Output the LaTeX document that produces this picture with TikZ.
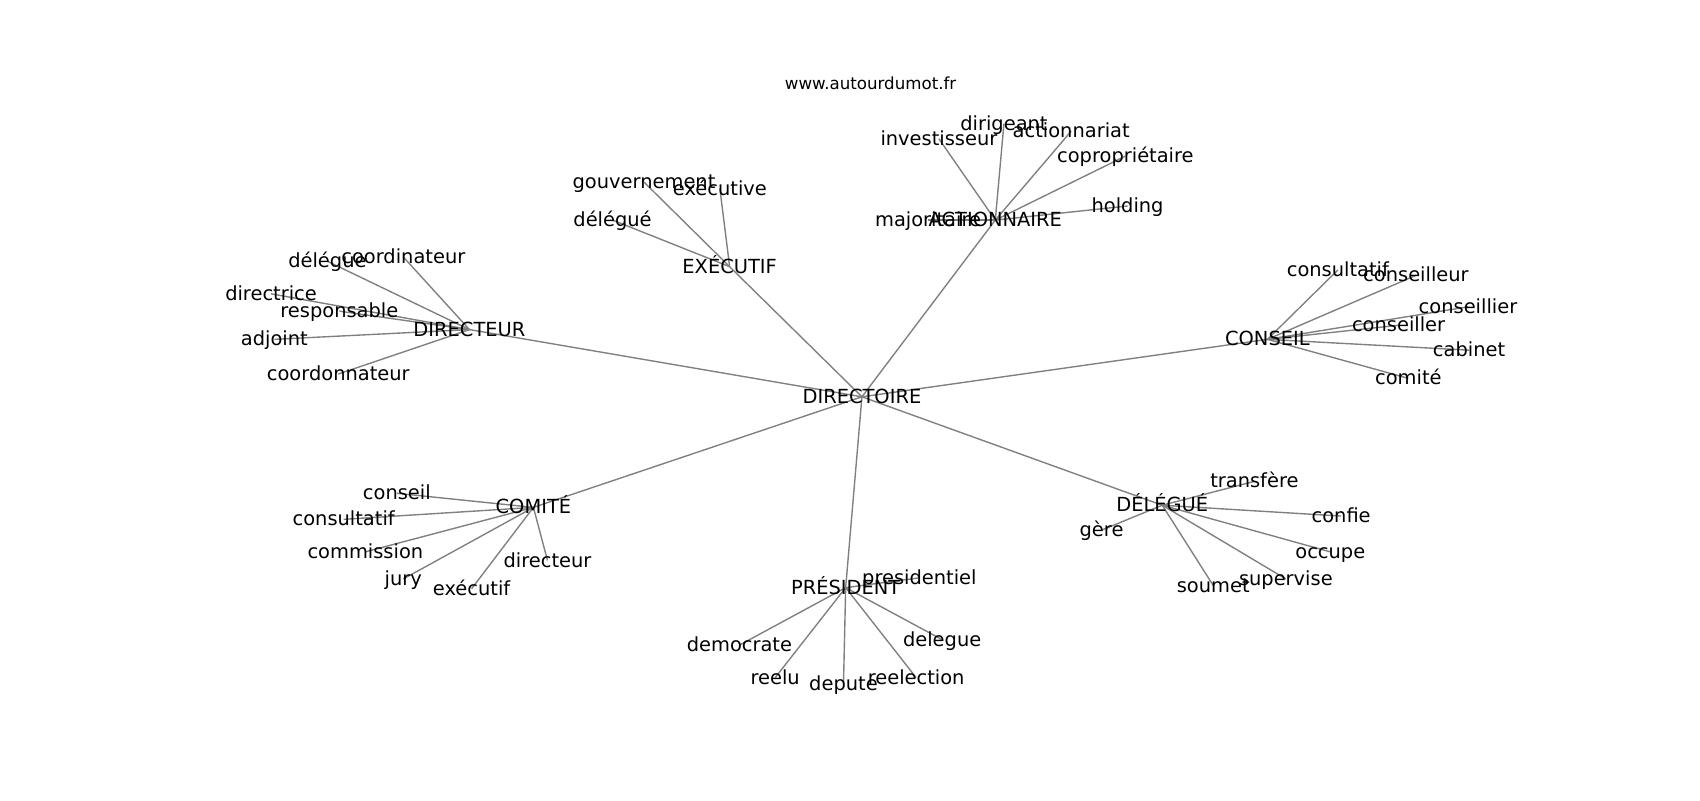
\documentclass[tikz,border=0pt]{standalone}
\usepackage{fontspec}
\setmainfont{DejaVu Sans}
\usetikzlibrary{backgrounds}
\tikzset{
    lbl/.style={font=\fontsize{14bp}{16bp}\selectfont, inner sep=0pt, text height=11.8bp, text depth=2.3bp},
    edge/.style={draw=gray, line width=1bp}
}
\newcommand{\spoke}[4]{\node[lbl] (#2) at (#3) {#4}; \begin{pgfonlayer}{background}\draw[edge] (#1.center) -- (#2.center);\end{pgfonlayer}}

\begin{document}
\begin{tikzpicture}[x=0.010842in, y=-0.010842in]
    \useasboundingbox (0,0) rectangle (1568,738);
    \node[font=\fontsize{12bp}{14bp}\selectfont, inner sep=0pt] (site) at (803,77) {www.autourdumot.fr};
    % centre
    \node[lbl] (dirtoire) at (795,366) {DIRECTOIRE};
    \spoke{dirtoire}{directeur}{433,304}{DIRECTEUR}
    \spoke{dirtoire}{executif}{673,246}{EXÉCUTIF}
    \spoke{dirtoire}{actionnaire}{918,203}{ACTIONNAIRE}
    \spoke{dirtoire}{conseil}{1169,313}{CONSEIL}
    \spoke{dirtoire}{comite}{492,468}{COMITÉ}
    \spoke{dirtoire}{president}{780,542}{PRÉSIDENT}
    \spoke{dirtoire}{delegue}{1072,466}{DÉLÉGUÉ}
    % directeur
    \spoke{directeur}{dir1}{302,241}{délégue}
    \spoke{directeur}{dir2}{372,237}{coordinateur}
    \spoke{directeur}{dir3}{250,271}{directrice}
    \spoke{directeur}{dir4}{313,287}{responsable}
    \spoke{directeur}{dir5}{253,313}{adjoint}
    \spoke{directeur}{dir6}{312,345}{coordonnateur}
    % executif
    \spoke{executif}{exe1}{594,168}{gouvernement}
    \spoke{executif}{exe2}{664,174}{exécutive}
    \spoke{executif}{exe3}{565,203}{délégué}
    % actionnaire
    \spoke{actionnaire}{act1}{856,203}{majoritaire}
    \spoke{actionnaire}{act2}{866,128}{investisseur}
    \spoke{actionnaire}{act3}{926,114}{dirigeant}
    \spoke{actionnaire}{act4}{988,121}{actionnariat}
    \spoke{actionnaire}{act5}{1038,144}{copropriétaire}
    \spoke{actionnaire}{act6}{1040,190}{holding}
    % conseil
    \spoke{conseil}{con1}{1234,249}{consultatif}
    \spoke{conseil}{con2}{1306,254}{conseilleur}
    \spoke{conseil}{con3}{1354,283}{conseillier}
    \spoke{conseil}{con4}{1290,300}{conseiller}
    \spoke{conseil}{con5}{1355,323}{cabinet}
    \spoke{conseil}{con6}{1299,349}{comité}
    % comite
    \spoke{comite}{com1}{366,455}{conseil}
    \spoke{comite}{com2}{317,479}{consultatif}
    \spoke{comite}{com3}{337,509}{commission}
    \spoke{comite}{com4}{372,534}{jury}
    \spoke{comite}{com5}{435,543}{exécutif}
    \spoke{comite}{com6}{505,517}{directeur}
    % president
    \spoke{president}{pre1}{848,533}{presidentiel}
    \spoke{president}{pre2}{682,595}{democrate}
    \spoke{president}{pre3}{715,625}{reelu}
    \spoke{president}{pre4}{778,631}{depute}
    \spoke{president}{pre5}{845,625}{reelection}
    \spoke{president}{pre6}{869,590}{delegue}
    % delegue
    \spoke{delegue}{del1}{1157,444}{transfère}
    \spoke{delegue}{del2}{1237,476}{confie}
    \spoke{delegue}{del3}{1016,489}{gère}
    \spoke{delegue}{del4}{1227,509}{occupe}
    \spoke{delegue}{del5}{1186,534}{supervise}
    \spoke{delegue}{del6}{1119,540}{soumet}
\end{tikzpicture}
\end{document}
